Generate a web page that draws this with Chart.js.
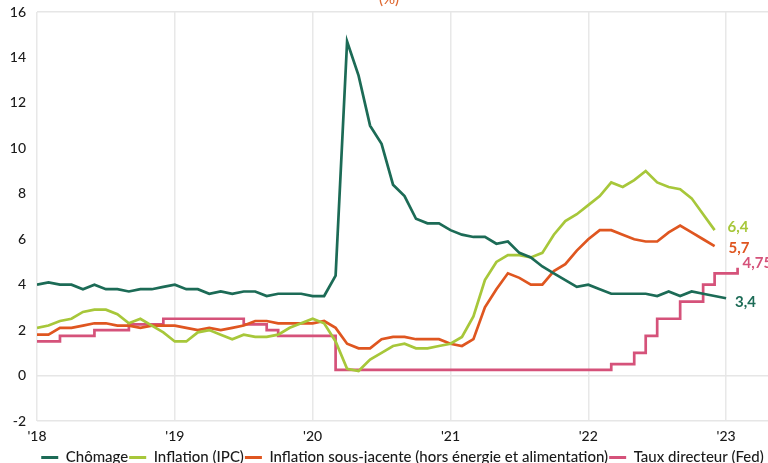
<!DOCTYPE html>
<html lang="fr">
<head>
<meta charset="utf-8">
<title>États-Unis : chômage, inflation et taux directeur</title>
<script src="https://cdn.jsdelivr.net/npm/chart.js@4.4.1/dist/chart.umd.min.js"></script>
<style>
  html, body { margin: 0; padding: 0; background: #ffffff; overflow: hidden; }
  #wrap { position: absolute; left: 0; top: 0; width: 805px; height: 475px; }
</style>
</head>
<body>
<div id="wrap"><canvas id="chart"></canvas></div>
<script>
// Monthly observations, January 2018 onwards
const months = [
  '2018-01','2018-02','2018-03','2018-04','2018-05','2018-06','2018-07','2018-08','2018-09','2018-10','2018-11','2018-12',
  '2019-01','2019-02','2019-03','2019-04','2019-05','2019-06','2019-07','2019-08','2019-09','2019-10','2019-11','2019-12',
  '2020-01','2020-02','2020-03','2020-04','2020-05','2020-06','2020-07','2020-08','2020-09','2020-10','2020-11','2020-12',
  '2021-01','2021-02','2021-03','2021-04','2021-05','2021-06','2021-07','2021-08','2021-09','2021-10','2021-11','2021-12',
  '2022-01','2022-02','2022-03','2022-04','2022-05','2022-06','2022-07','2022-08','2022-09','2022-10','2022-11','2022-12',
  '2023-01','2023-02'
];

// Year ticks (placed on each January)
const yearTicks = ["'18", "'19", "'20", "'21", "'22", "'23"];

// Unemployment rate (%), Jan 2018 - Jan 2023
const chomage = [
  4.0, 4.1, 4.0, 4.0, 3.8, 4.0, 3.8, 3.8, 3.7, 3.8, 3.8, 3.9,
  4.0, 3.8, 3.8, 3.6, 3.7, 3.6, 3.7, 3.7, 3.5, 3.6, 3.6, 3.6,
  3.5, 3.5, 4.4, 14.7, 13.2, 11.0, 10.2, 8.4, 7.9, 6.9, 6.7, 6.7,
  6.4, 6.2, 6.1, 6.1, 5.8, 5.9, 5.4, 5.2, 4.8, 4.5, 4.2, 3.9,
  4.0, 3.8, 3.6, 3.6, 3.6, 3.6, 3.5, 3.7, 3.5, 3.7, 3.6, 3.5,
  3.4
];

// CPI inflation, year on year (%), Jan 2018 - Dec 2022
const inflationIPC = [
  2.1, 2.2, 2.4, 2.5, 2.8, 2.9, 2.9, 2.7, 2.3, 2.5, 2.2, 1.9,
  1.5, 1.5, 1.9, 2.0, 1.8, 1.6, 1.8, 1.7, 1.7, 1.8, 2.1, 2.3,
  2.5, 2.3, 1.5, 0.3, 0.2, 0.7, 1.0, 1.3, 1.4, 1.2, 1.2, 1.3,
  1.4, 1.7, 2.6, 4.2, 5.0, 5.3, 5.3, 5.2, 5.4, 6.2, 6.8, 7.1,
  7.5, 7.9, 8.5, 8.3, 8.6, 9.0, 8.5, 8.3, 8.2, 7.8, 7.1, 6.4
];

// Core inflation, excluding energy and food (%), Jan 2018 - Dec 2022
const inflationCore = [
  1.8, 1.8, 2.1, 2.1, 2.2, 2.3, 2.3, 2.2, 2.2, 2.1, 2.2, 2.2,
  2.2, 2.1, 2.0, 2.1, 2.0, 2.1, 2.2, 2.4, 2.4, 2.3, 2.3, 2.3,
  2.3, 2.4, 2.1, 1.4, 1.2, 1.2, 1.6, 1.7, 1.7, 1.6, 1.6, 1.6,
  1.4, 1.3, 1.6, 3.0, 3.8, 4.5, 4.3, 4.0, 4.0, 4.6, 4.9, 5.5,
  6.0, 6.4, 6.4, 6.2, 6.0, 5.9, 5.9, 6.3, 6.6, 6.3, 6.0, 5.7
];

// Fed funds target, upper bound (%), Jan 2018 - Feb 2023
const tauxFed = [
  1.5, 1.5, 1.75, 1.75, 1.75, 2.0, 2.0, 2.0, 2.25, 2.25, 2.25, 2.5,
  2.5, 2.5, 2.5, 2.5, 2.5, 2.5, 2.25, 2.25, 2.0, 1.75, 1.75, 1.75,
  1.75, 1.75, 0.25, 0.25, 0.25, 0.25, 0.25, 0.25, 0.25, 0.25, 0.25, 0.25,
  0.25, 0.25, 0.25, 0.25, 0.25, 0.25, 0.25, 0.25, 0.25, 0.25, 0.25, 0.25,
  0.25, 0.25, 0.5, 0.5, 1.0, 1.75, 2.5, 2.5, 3.25, 3.25, 4.0, 4.5,
  4.5, 4.75
];

const seriesNames = [
  'Chômage',
  'Inflation (IPC)',
  'Inflation sous-jacente (hors énergie et alimentation)',
  'Taux directeur (Fed)'
];

const COLORS = {
  chomage: '#1c6b56',
  ipc: '#a7c73a',
  core: '#df5620',
  fed: '#d5527a'
};

const FONT = 'Lato, "Noto Sans", sans-serif';

// Month index on the x axis for each value
const toPoints = (arr) => arr.map((v, i) => ({ x: i, y: v }));

// Last-value labels drawn just right of each series' final point
const endLabelOffsets = [
  { dx: 9, dy: 4 },
  { dx: 13, dy: -3 },
  { dx: 14, dy: 2 },
  { dx: 5, dy: -4 }
];

const endLabels = {
  id: 'endLabels',
  afterDatasetsDraw(chart) {
    const ctx = chart.ctx;
    ctx.save();
    ctx.font = 'bold 15px ' + FONT;
    ctx.textAlign = 'left';
    ctx.textBaseline = 'middle';
    chart.data.datasets.forEach((ds, i) => {
      const meta = chart.getDatasetMeta(i);
      const last = meta.data[meta.data.length - 1];
      const value = ds.data[ds.data.length - 1].y;
      const off = endLabelOffsets[i];
      ctx.fillStyle = ds.borderColor;
      ctx.fillText(String(value).replace('.', ','), last.x + off.dx, last.y + off.dy);
    });
    ctx.restore();
  }
};

// Unit note above the plot
const unitNote = {
  id: 'unitNote',
  afterDraw(chart) {
    const ctx = chart.ctx;
    ctx.save();
    ctx.font = '500 15px ' + FONT;
    ctx.fillStyle = '#df6a33';
    ctx.textAlign = 'center';
    ctx.textBaseline = 'middle';
    ctx.fillText('(%)', 389, -1);
    ctx.restore();
  }
};

const lineDefaults = {
  borderWidth: 2.7,
  pointRadius: 0,
  pointHoverRadius: 0,
  tension: 0,
  fill: false
};

new Chart(document.getElementById('chart'), {
  type: 'line',
  data: {
    datasets: [
      Object.assign({ label: seriesNames[0], data: toPoints(chomage), borderColor: COLORS.chomage, backgroundColor: COLORS.chomage }, lineDefaults),
      Object.assign({ label: seriesNames[1], data: toPoints(inflationIPC), borderColor: COLORS.ipc, backgroundColor: COLORS.ipc }, lineDefaults),
      Object.assign({ label: seriesNames[2], data: toPoints(inflationCore), borderColor: COLORS.core, backgroundColor: COLORS.core }, lineDefaults),
      Object.assign({ label: seriesNames[3], data: toPoints(tauxFed), borderColor: COLORS.fed, backgroundColor: COLORS.fed, stepped: 'before' }, lineDefaults)
    ]
  },
  options: {
    responsive: true,
    maintainAspectRatio: false,
    animation: false,
    layout: { padding: { top: 12, left: 0, right: 0, bottom: 0 } },
    scales: {
      x: {
        type: 'linear',
        min: 0,
        max: 66.87,
        border: { display: false },
        grid: {
          drawTicks: false,
          color: '#e8e8e8',
          lineWidth: 1.5
        },
        ticks: {
          stepSize: 12,
          includeBounds: false,
          autoSkip: false,
          maxRotation: 0,
          padding: 7,
          color: '#1a1a1a',
          font: { family: FONT, size: 14, weight: 500 },
          callback: (v) => (v % 12 === 0 && v / 12 < yearTicks.length) ? yearTicks[v / 12] : ''
        },
        afterFit: (scale) => { scale.height = 28; }
      },
      y: {
        min: -2,
        max: 16,
        border: { display: false },
        grid: {
          drawTicks: false,
          lineWidth: 1.5,
          color: (c) => (c.tick && (c.tick.value === 16 || c.tick.value === 0 || c.tick.value === -2)) ? '#e6e6e6' : 'rgba(0,0,0,0)'
        },
        ticks: {
          stepSize: 2,
          padding: 11,
          color: '#1a1a1a',
          font: { family: FONT, size: 14, weight: 500 }
        },
        afterFit: (scale) => {
          scale.width = 37;
          scale.paddingTop = 0;
          scale.paddingBottom = 0;
        }
      }
    },
    plugins: {
      tooltip: { enabled: false },
      legend: {
        position: 'bottom',
        labels: {
          boxWidth: 17,
          boxHeight: 3,
          padding: 1,
          color: '#1a1a1a',
          font: { family: FONT, size: 15, weight: 500 },
          generateLabels: (chart) => Chart.defaults.plugins.legend.labels.generateLabels(chart).map((l) => Object.assign(l, { lineWidth: 0 }))
        }
      }
    }
  },
  plugins: [endLabels, unitNote]
});
</script>
</body>
</html>
